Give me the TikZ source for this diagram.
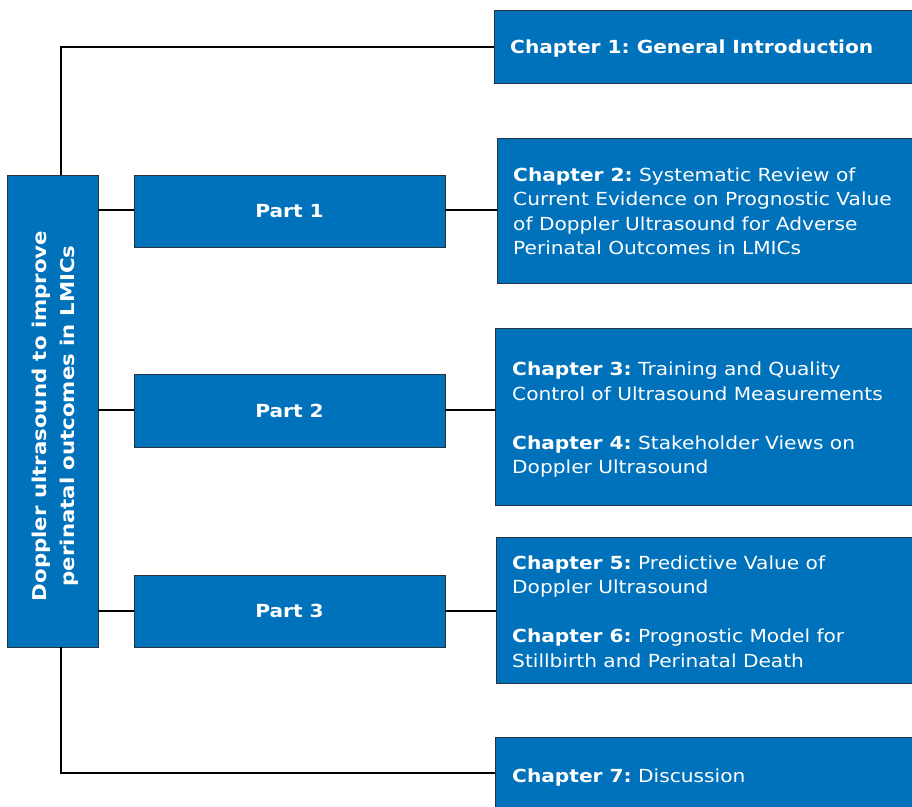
\documentclass[tikz,border=0pt]{standalone}
\usepackage{fontspec}
\setmainfont[FakeStretch=1.12]{DejaVu Sans}
\frenchspacing
\definecolor{boxblue}{RGB}{0,114,187}
\definecolor{boxedge}{RGB}{40,50,60}
\begin{document}
\begin{tikzpicture}[x=1pt,y=-1pt,
  bluebox/.style={draw=boxedge,line width=0.8pt,fill=boxblue,inner sep=0pt},
  chtext/.style={anchor=west,text=white,align=left,inner sep=0pt,
    font=\fontsize{18}{24.5}\selectfont},
  parttext/.style={text=white,font=\fontsize{18}{22}\selectfont\bfseries},
  link/.style={draw=black,line width=1.1pt}]
\useasboundingbox (0,0) rectangle (912,806);
\fill[white] (0,0) rectangle (912,806);

% central theme box
\path[bluebox] (7,175) rectangle (98,647);
\coordinate (mainC) at (55,416);
\node[rotate=90,text=white,align=center,inner sep=0pt,
  font=\fontsize{19}{28}\selectfont\bfseries] (main) at (mainC)
  {Doppler ultrasound to improve\\perinatal outcomes in LMICs};
\coordinate (mainTop) at (61,175);
\coordinate (mainBot) at (61,647);
\coordinate (mainR1) at (98,210);
\coordinate (mainR2) at (98,410);
\coordinate (mainR3) at (98,611);

% parts
\node[bluebox,minimum width=311pt,minimum height=72pt,parttext] (p1) at (289.5,211) {Part 1};
\node[bluebox,minimum width=311pt,minimum height=73pt,parttext] (p2) at (289.5,410.5) {Part 2};
\node[bluebox,minimum width=311pt,minimum height=72pt,parttext] (p3) at (289.5,611) {Part 3};

% chapter boxes (run past the right edge)
\path[bluebox] (494,10) rectangle (930,83);
\coordinate (c1) at (494,47);
\node[chtext] (t1) at (510,49) {\textbf{Chapter 1: General Introduction}};

\path[bluebox] (497,138) rectangle (930,283);
\coordinate (c2) at (497,210);
\node[chtext] (t2) at (513,211.5) {\textbf{Chapter 2:} Systematic Review of\\Current Evidence on Prognostic Value\\of Doppler Ultrasound for Adverse\\Perinatal Outcomes in LMICs};

\path[bluebox] (495,328) rectangle (930,505);
\coordinate (c3) at (495,410);
\node[chtext] (t3) at (512,420) {\textbf{Chapter 3:} Training and Quality\\Control of Ultrasound Measurements\\[24.5pt]\textbf{Chapter 4:} Stakeholder Views on\\Doppler Ultrasound};

\path[bluebox] (496,537) rectangle (930,683);
\coordinate (c5) at (496,611);
\node[chtext] (t5) at (512,611.5) {\textbf{Chapter 5:} Predictive Value of\\Doppler Ultrasound\\[24.5pt]\textbf{Chapter 6:} Prognostic Model for\\Stillbirth and Perinatal Death};

\path[bluebox] (495,737) rectangle (930,830);
\coordinate (c7) at (495,773);
\node[chtext] (t7) at (512,778) {\textbf{Chapter 7:} Discussion};

% connectors
\draw[link] (mainTop) |- (c1);
\draw[link] (mainBot) |- (c7);
\draw[link] (mainR1) -- (p1.west |- mainR1);
\draw[link] (p1.east |- mainR1) -- (c2);
\draw[link] (mainR2) -- (p2.west |- mainR2);
\draw[link] (p2.east |- mainR2) -- (c3);
\draw[link] (mainR3) -- (p3.west |- mainR3);
\draw[link] (p3.east |- mainR3) -- (c5);
\end{tikzpicture}
\end{document}
